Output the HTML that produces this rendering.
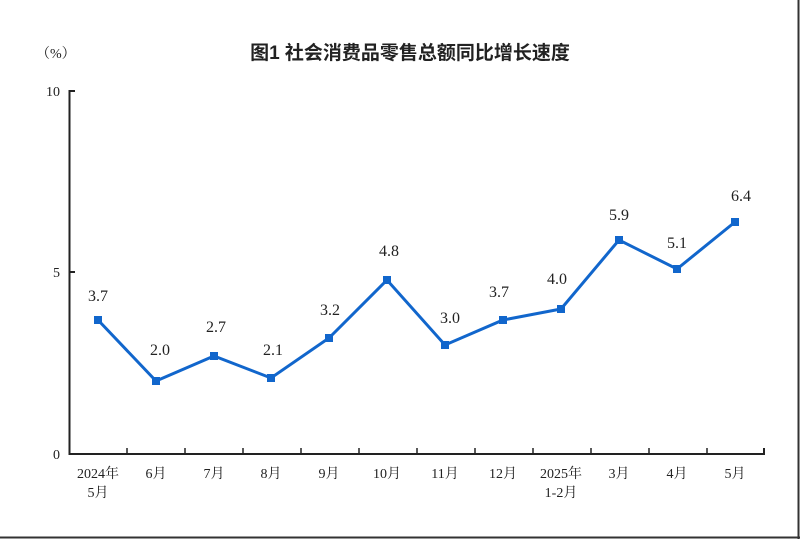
<!DOCTYPE html>
<html><head><meta charset="utf-8"><style>
html,body{margin:0;padding:0;background:#fff;}
svg{display:block}
text{font-family:"Liberation Serif","Noto Serif CJK SC",serif;fill:#222;}
</style></head><body>
<svg width="800" height="539" viewBox="0 0 800 539" xmlns="http://www.w3.org/2000/svg">
<rect x="0" y="0" width="800" height="539" fill="#fff"/>
<line x1="0" y1="537.5" x2="800" y2="537.5" stroke="#333" stroke-width="2"/>
<line x1="798.5" y1="0" x2="798.5" y2="539" stroke="#333" stroke-width="2"/>
<text x="410" y="59" font-size="19" text-anchor="middle" style="font-family:'Liberation Sans','Noto Sans CJK SC',sans-serif;font-weight:bold">图1  社会消费品零售总额同比增长速度</text>
<text x="36" y="58" font-size="14">（%）</text>
<g stroke="#222" stroke-width="2" fill="none">
<polyline points="75,91 69.5,91 69.5,454 764,454 764,448"/>
<line x1="69" y1="272" x2="75" y2="272"/>
</g>
<g stroke="#222" stroke-width="1.5">
<line x1="127" y1="448" x2="127" y2="454"/><line x1="185" y1="448" x2="185" y2="454"/><line x1="243" y1="448" x2="243" y2="454"/><line x1="301" y1="448" x2="301" y2="454"/><line x1="359" y1="448" x2="359" y2="454"/><line x1="417" y1="448" x2="417" y2="454"/><line x1="475" y1="448" x2="475" y2="454"/><line x1="533" y1="448" x2="533" y2="454"/><line x1="591" y1="448" x2="591" y2="454"/><line x1="649" y1="448" x2="649" y2="454"/><line x1="707" y1="448" x2="707" y2="454"/>
</g>
<g font-size="14" text-anchor="end">
<text x="60" y="96">10</text><text x="60" y="277">5</text><text x="60" y="459">0</text>
</g>
<g font-size="14" text-anchor="middle">
<text x="98" y="478">2024年</text><text x="98" y="497">5月</text>
<text x="156" y="478">6月</text><text x="214" y="478">7月</text><text x="271" y="478">8月</text>
<text x="329" y="478">9月</text><text x="387" y="478">10月</text><text x="445" y="478">11月</text>
<text x="503" y="478">12月</text><text x="561" y="478">2025年</text><text x="561" y="497">1-2月</text>
<text x="619" y="478">3月</text><text x="677" y="478">4月</text><text x="735" y="478">5月</text>
</g>
<polyline fill="none" stroke="#1166cc" stroke-width="3" stroke-linejoin="miter" points="98,320 156,381 214,356 271,378 329,338 387,280 445,345 503,320 561,309 619,240 677,269 735,222"/>
<g fill="#1166cc">
<rect x="94" y="316" width="8" height="8"/><rect x="152" y="377" width="8" height="8"/><rect x="210" y="352" width="8" height="8"/><rect x="267" y="374" width="8" height="8"/><rect x="325" y="334" width="8" height="8"/><rect x="383" y="276" width="8" height="8"/><rect x="441" y="341" width="8" height="8"/><rect x="499" y="316" width="8" height="8"/><rect x="557" y="305" width="8" height="8"/><rect x="615" y="236" width="8" height="8"/><rect x="673" y="265" width="8" height="8"/><rect x="731" y="218" width="8" height="8"/>
</g>
<g font-size="16" text-anchor="middle">
<text x="98" y="301">3.7</text><text x="160" y="355">2.0</text><text x="216" y="332">2.7</text><text x="273" y="355">2.1</text>
<text x="330" y="315">3.2</text><text x="389" y="256">4.8</text><text x="450" y="323">3.0</text><text x="499" y="297">3.7</text>
<text x="557" y="284">4.0</text><text x="619" y="220">5.9</text><text x="677" y="248">5.1</text><text x="741" y="201">6.4</text>
</g>
</svg>
</body></html>
